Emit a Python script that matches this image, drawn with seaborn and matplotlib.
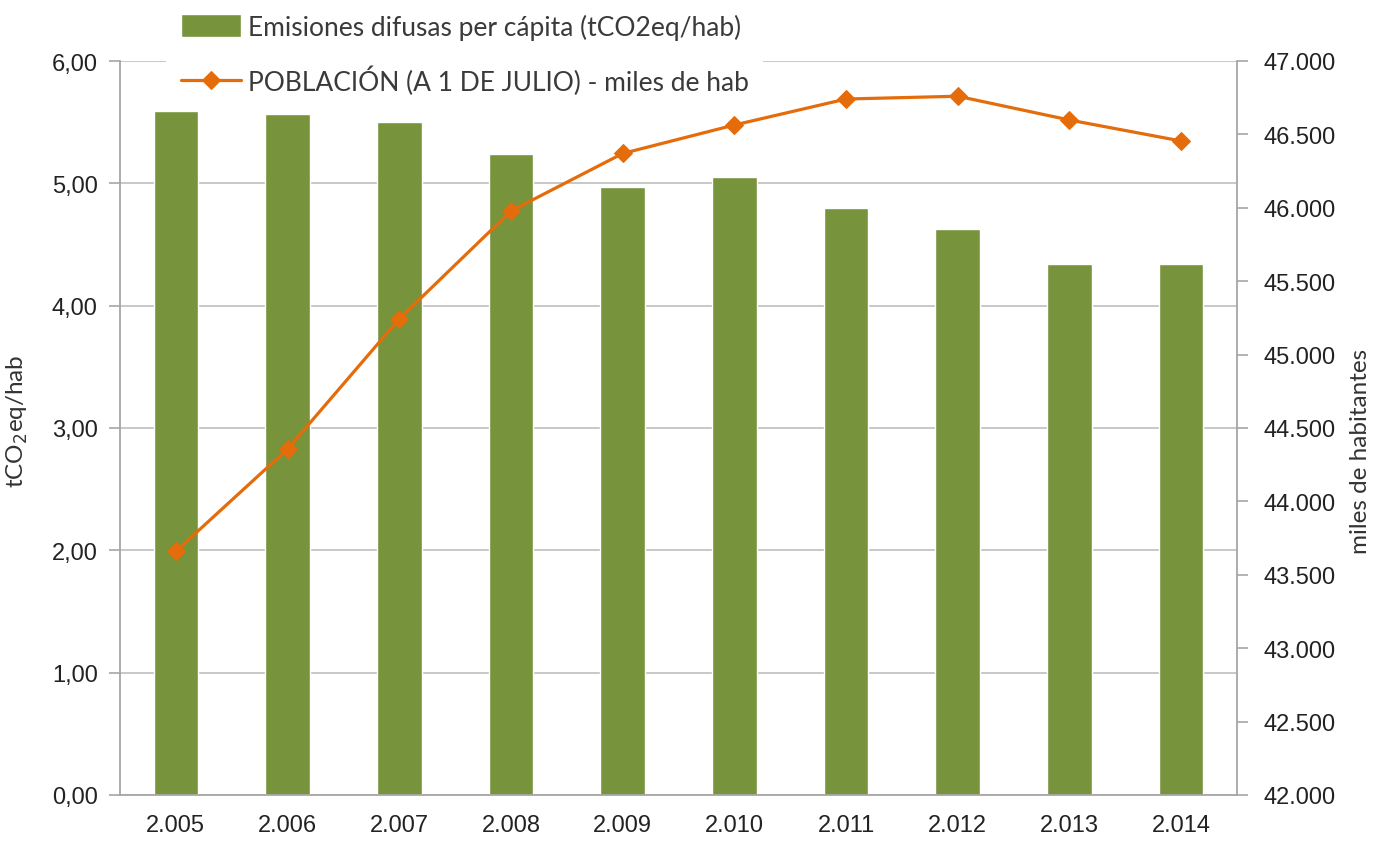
import numpy as np
import matplotlib
matplotlib.use("Agg")
import matplotlib.pyplot as plt
from matplotlib.ticker import FuncFormatter, MultipleLocator, FixedLocator
import seaborn as sns

# data
years = ["2.005", "2.006", "2.007", "2.008", "2.009",
         "2.010", "2.011", "2.012", "2.013", "2.014"]
emisiones = [5.59, 5.57, 5.50, 5.24, 4.97, 5.05, 4.80, 4.63, 4.34, 4.34]
poblacion = [43660, 44357, 45243, 45978, 46370, 46564, 46741, 46760, 46598, 46455]

bar_label = "Emisiones difusas per cápita (tCO2eq/hab)"
line_label = "POBLACIÓN (A 1 DE JULIO) - miles de hab"

sns.set_style("white")
plt.rcParams["font.family"] = ["Liberation Sans", "DejaVu Sans"]

green = "#77933C"
orange = "#E46C0A"
gray = "#A6A6A6"

fig = plt.figure(figsize=(13.74, 8.45), dpi=100)
ax = fig.add_axes([120 / 1374, 49 / 845, 1117 / 1374, 734 / 845])

sns.barplot(x=years, y=emisiones, color=green, width=0.4, saturation=1, ax=ax,
            label=bar_label, zorder=2)
ax.set_xlim(-0.5, len(years) - 0.5)
ax.set_ylim(0, 6)
ax.yaxis.set_major_locator(MultipleLocator(1))
ax.yaxis.set_major_formatter(FuncFormatter(lambda v, p: f"{v:.2f}".replace(".", ",")))
ax.grid(axis="y", color="#C4C4C4", linewidth=1.3, zorder=0)
ax.set_axisbelow(True)
ax.xaxis.set_minor_locator(FixedLocator(np.arange(-0.5, len(years), 1.0)))
ax.tick_params(axis="x", which="major", length=0, pad=14, labelsize=17, labelcolor="#222222")
ax.tick_params(axis="x", which="minor", length=8, color=gray, width=1.2, direction="out")
ax.tick_params(axis="y", length=8, color=gray, width=1.2, labelsize=17, pad=8,
               labelcolor="#222222")
ax.set_xlabel("")
ax.set_ylabel("tCO$_2$eq/hab", fontsize=17.5, family="Lato", color="#333333")
ax.yaxis.set_label_coords(-90 / 1117, 0.51)
for s in ["top", "right"]:
    ax.spines[s].set_visible(False)
for s in ["left", "bottom"]:
    ax.spines[s].set_color(gray)
    ax.spines[s].set_linewidth(1.3)

ax2 = ax.twinx()
sns.lineplot(x=np.arange(len(years)), y=poblacion, color=orange, marker="D",
             markersize=9, markeredgecolor=orange, linewidth=2.3, ax=ax2,
             label=line_label, legend=False)
ax2.set_ylim(42000, 47000)
ax2.yaxis.set_major_locator(MultipleLocator(500))
ax2.yaxis.set_major_formatter(FuncFormatter(lambda v, p: f"{int(v):,}".replace(",", ".")))
ax2.tick_params(axis="y", length=8, color=gray, width=1.2, labelsize=17, pad=11,
                labelcolor="#222222")
ax2.set_ylabel("miles de habitantes", fontsize=17.5, family="Lato", color="#333333")
ax2.yaxis.set_label_coords(1 + 113 / 1117, 0.47)
for s in ["top", "left", "bottom"]:
    ax2.spines[s].set_visible(False)
ax2.spines["right"].set_color(gray)
ax2.spines["right"].set_linewidth(1.3)

h1, l1 = ax.get_legend_handles_labels()
h2, l2 = ax2.get_legend_handles_labels()
if ax.get_legend() is not None:
    ax.get_legend().remove()
leg = fig.legend(h1 + h2, l1 + l2, loc="upper left", bbox_to_anchor=(166 / 1374, 1.0),
                 frameon=True, facecolor="white", edgecolor="none", framealpha=1,
                 prop={"family": "Lato", "size": 19},
                 handlelength=2.3, handleheight=1.0, handletextpad=0.25,
                 labelspacing=1.0, borderpad=0.55, borderaxespad=0, fancybox=False)
for t in leg.get_texts():
    t.set_color("#3A3A3A")

fig.savefig("out.png", dpi=100)
